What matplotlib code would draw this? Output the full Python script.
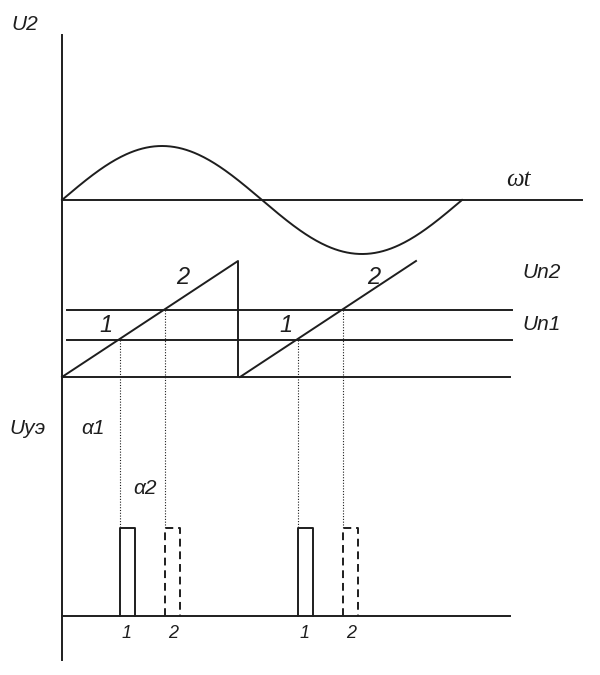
import numpy as np
import matplotlib
matplotlib.use("Agg")
import matplotlib.pyplot as plt

# ---- data (diagram coordinates, y grows downward) ----
axis_x = 62
axis_top, axis_bottom = 35, 660
sine_zero_y = 200
sine_start_x, sine_end_x = 62, 462
sine_amplitude = 54
time_axis_end = 582

ramp_base_y = 377
ramp_top_y = 261
ramp_starts = [62, 240]
ramp_ends = [238, 416]
level_un1 = 340
level_un2 = 310
level_x_start, level_x_end = 67, 512

cross_1 = [120, 298]   # ramp crosses Un1
cross_2 = [165, 343]   # ramp crosses Un2
pulse_width = 15
pulse_top_y = 528
pulse_base_y = 616
pulse_axis_end = 510

ink = "#1e1e1e"

fig = plt.figure(figsize=(6, 6.75), dpi=100)
ax = fig.add_axes([0, 0, 1, 1])
ax.set_xlim(0, 600)
ax.set_ylim(675, 0)
ax.axis("off")

lw = 1.4
# vertical axis
ax.plot([axis_x, axis_x], [axis_top, axis_bottom], color=ink, lw=lw)
# time axis of sine
ax.plot([axis_x, time_axis_end], [sine_zero_y, sine_zero_y], color=ink, lw=lw)
# sine
xs = np.linspace(sine_start_x, sine_end_x, 300)
ys = sine_zero_y - sine_amplitude * np.sin(2 * np.pi * (xs - sine_start_x) / (sine_end_x - sine_start_x))
ax.plot(xs, ys, color=ink, lw=lw)

# levels
ax.plot([level_x_start, level_x_end], [level_un2, level_un2], color=ink, lw=lw)
ax.plot([level_x_start, level_x_end], [level_un1, level_un1], color=ink, lw=lw)
ax.plot([axis_x, pulse_axis_end], [ramp_base_y, ramp_base_y], color=ink, lw=lw)

# ramps
ax.plot([ramp_starts[0], ramp_ends[0], ramp_ends[0]], [ramp_base_y, ramp_top_y, ramp_base_y], color=ink, lw=lw)
ax.plot([ramp_starts[1], ramp_ends[1]], [ramp_base_y, ramp_top_y], color=ink, lw=lw)

# dotted projections
for x in cross_1:
    ax.plot([x, x], [level_un1, pulse_top_y], color=ink, lw=0.8, ls=(0, (1, 1.5)))
for x in cross_2:
    ax.plot([x, x], [level_un2, pulse_top_y], color=ink, lw=0.8, ls=(0, (1, 1.5)))

# pulse axis
ax.plot([axis_x, pulse_axis_end], [pulse_base_y, pulse_base_y], color=ink, lw=lw)

# pulses
for x in cross_1:
    ax.plot([x, x, x + pulse_width, x + pulse_width], [pulse_base_y, pulse_top_y, pulse_top_y, pulse_base_y],
            color=ink, lw=lw)
for x in cross_2:
    ax.plot([x, x, x + pulse_width, x + pulse_width], [pulse_base_y, pulse_top_y, pulse_top_y, pulse_base_y],
            color=ink, lw=lw, ls=(0, (4, 2.5)))

# labels
tk = dict(color=ink, style="italic", family=["Liberation Sans", "DejaVu Sans"], fontsize=15)
ax.text(11, 25, "U2", ha="left", va="center", **tk)
ax.text(506, 180, "ωt", ha="left", va="center", **dict(tk, family=["Liberation Serif", "DejaVu Serif"], fontsize=18))
ax.text(522, 272, "Un2", ha="left", va="center", **tk)
ax.text(522, 325, "Un1", ha="left", va="center", **tk)
ax.text(9, 428, "Uуэ", ha="left", va="center", **tk)
ax.text(81, 428, "α1", ha="left", va="center", **tk)
ax.text(133, 488, "α2", ha="left", va="center", **tk)
big = dict(tk, fontsize=17)
ax.text(106, 326, "1", ha="center", va="center", **big)
ax.text(183, 277, "2", ha="center", va="center", **big)
ax.text(286, 326, "1", ha="center", va="center", **big)
ax.text(374, 277, "2", ha="center", va="center", **big)
sm = dict(tk, fontsize=13)
for x in cross_1:
    ax.text(x + 7, 634, "1", ha="center", va="center", **sm)
for x in cross_2:
    ax.text(x + 8, 634, "2", ha="center", va="center", **sm)

fig.savefig("out.png", dpi=100, facecolor="white")
